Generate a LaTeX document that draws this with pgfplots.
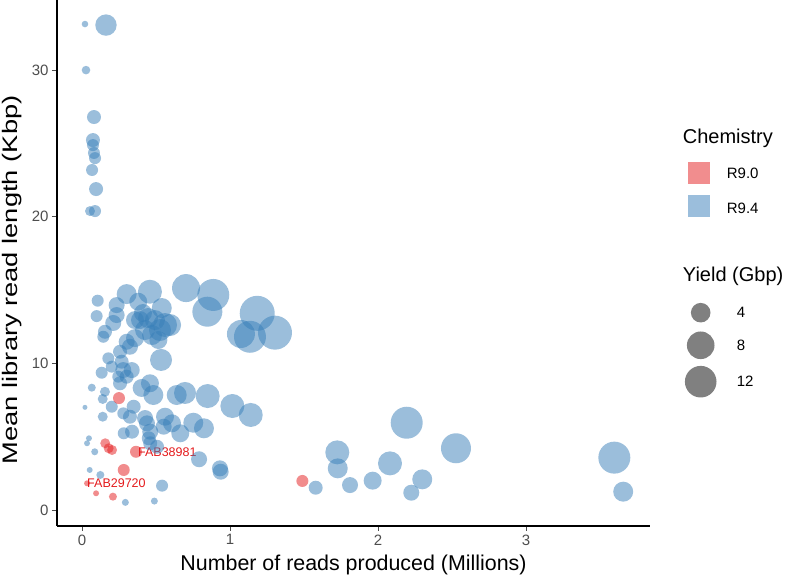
\documentclass[border=0pt]{standalone}
\usepackage{pgfplots}
\pgfplotsset{compat=1.18}
\usepackage{pgfplotstable}
\usepackage{fontspec}
\setmainfont{Liberation Sans}
\definecolor{cred}{HTML}{E41A1C}
\definecolor{cblue}{HTML}{377EB8}
\definecolor{tickgrey}{HTML}{4D4D4D}

% x = reads (millions), y = mean read length (Kbp), yield = Gbp
\pgfplotstableread{
x y yield
0.020 33.13 0.45
0.162 33.06 4.77
0.027 29.99 0.77
0.081 26.79 2.04
0.074 25.22 2.04
0.074 24.88 1.5
0.081 24.34 1.5
0.088 23.99 1.5
0.068 23.18 1.5
0.095 21.88 2.04
0.054 20.38 1.04
0.088 20.38 1.5
0.106 14.27 1.5
0.099 13.22 1.5
0.302 14.72 4.16
0.459 14.88 6.0
0.703 15.13 8.16
0.887 14.66 10.66
0.847 13.52 9.37
1.184 13.41 12.76
1.074 12.00 8.16
1.135 11.81 10.66
1.304 12.09 12.04
0.234 13.97 2.67
0.234 13.29 2.67
0.211 12.75 2.67
0.155 12.15 2.04
0.144 11.81 1.5
0.380 14.20 3.37
0.539 13.77 4.16
0.561 12.61 6.0
0.493 12.95 4.16
0.426 12.27 4.16
0.358 11.72 3.37
0.302 11.47 2.67
0.324 11.13 2.67
0.516 11.59 3.37
0.534 10.23 5.04
0.257 10.79 2.04
0.178 10.34 1.5
0.201 9.77 1.5
0.133 9.36 1.5
0.268 10.11 2.04
0.279 9.54 2.67
0.336 9.54 2.67
0.302 9.09 2.04
0.245 9.09 1.5
0.257 8.64 2.04
0.459 8.64 3.37
0.403 8.32 3.37
0.482 7.84 4.16
0.640 7.84 4.16
0.696 7.98 5.04
0.849 7.77 6.0
1.016 7.09 6.0
1.140 6.48 6.0
0.066 8.34 0.67
0.155 8.06 1.04
0.140 7.57 1.04
0.020 7.00 0.26
0.201 7.04 1.5
0.140 6.36 1.04
0.279 6.59 1.5
0.324 6.36 2.04
0.426 6.27 2.67
0.561 6.36 3.37
0.349 7.04 2.04
0.752 5.95 4.16
0.824 5.57 4.16
0.608 5.91 3.37
0.552 5.68 2.67
0.664 5.23 3.37
0.439 5.91 2.67
0.338 5.34 2.04
0.282 5.23 1.5
0.461 5.34 2.67
0.451 4.89 2.04
0.507 4.31 2.04
0.461 4.55 2.04
0.047 4.89 0.37
0.034 4.55 0.37
0.086 3.97 0.51
0.791 3.46 2.67
0.932 2.84 2.67
0.937 2.61 2.67
0.052 2.73 0.37
0.124 2.39 0.67
0.541 1.66 1.5
0.293 0.52 0.51
0.489 0.61 0.51
1.579 1.52 2.04
1.725 3.93 6.0
1.728 2.84 4.16
1.811 1.70 2.67
1.964 2.00 3.37
2.081 3.18 6.0
2.194 5.95 10.66
2.299 2.09 4.16
2.225 1.18 2.67
2.527 4.21 9.37
3.597 3.57 10.66
3.657 1.25 4.16
0.595 12.61 5.04
0.446 13.09 4.16
0.392 12.95 3.37
0.473 11.93 4.16
0.527 12.27 5.04
0.412 13.43 3.37
0.358 12.95 3.37
}\bluedata

\pgfplotstableread{
x y yield
0.250 7.63 1.5
0.157 4.55 1.04
0.180 4.21 1.04
0.203 4.09 1.04
0.365 3.97 1.5
0.282 2.73 1.5
0.034 1.82 0.37
0.095 1.14 0.37
0.209 0.91 0.67
1.489 1.98 1.5
}\reddata

\begin{document}
\begin{tikzpicture}[x=1pt,y=1pt]
\begin{axis}[
  at={(0pt,0pt)}, anchor=south west,
  scale only axis, width=593pt, height=526pt,
  xmin=-0.169, xmax=3.838, ymin=-1.09, ymax=34.77,
  axis x line*=bottom, axis y line*=left,
  axis line style={line width=1.2pt, black},
  xtick={0,1,2,3}, ytick={0,10,20,30},
  tick align=outside, major tick length=5pt,
  tick style={black!70, line width=0.8pt},
  /pgf/number format/assume math mode=true,
  ticklabel style={font=\fontsize{15}{15}\selectfont, text=tickgrey},
  xlabel={Number of reads produced (Millions)},
  ylabel={\scalebox{1.3}[1]{Mean library read length (Kbp)}},
  xlabel style={font=\fontsize{21.4}{21.4}\selectfont, at={(axis description cs:0.5,-0.0741)}, anchor=center},
  ylabel style={font=\fontsize{21}{21}\selectfont, at={(axis description cs:-0.0759,0.468)}, anchor=center},
  clip=false,
]
\addplot[scatter, only marks, mark=*, draw opacity=0,
  mark options={draw opacity=0},
  scatter/use mapped color={draw opacity=0, fill=cblue, fill opacity=0.5},
  visualization depends on={4.9*sqrt(\thisrow{yield}) \as \rad},
  scatter/@pre marker code/.append style={/tikz/mark size=\rad}]
  table[x=x, y=y] {\bluedata};
\addplot[scatter, only marks, mark=*, draw opacity=0,
  mark options={draw opacity=0},
  scatter/use mapped color={draw opacity=0, fill=cred, fill opacity=0.5},
  visualization depends on={4.9*sqrt(\thisrow{yield}) \as \rad},
  scatter/@pre marker code/.append style={/tikz/mark size=\rad}]
  table[x=x, y=y] {\reddata};
\node[anchor=west, text=cred, inner sep=0pt, font=\fontsize{12.5}{12.5}\selectfont] at (axis cs:0.378,3.95) {FAB38981};
\node[anchor=west, text=cred, inner sep=0pt, font=\fontsize{12.5}{12.5}\selectfont] at (axis cs:0.034,1.82) {FAB29720};
\end{axis}
% legend
\node[anchor=west, inner sep=0pt, font=\fontsize{20}{20}\selectfont] at (625.7,387.7) {Chemistry};
\fill[cred!50!white] (630.7,342) rectangle (653,363.7);
\fill[cblue!50!white] (630.7,308.7) rectangle (653,331);
\node[anchor=west, inner sep=0pt, font=\fontsize{15}{15}\selectfont] at (669.7,352.7) {R9.0};
\node[anchor=west, inner sep=0pt, font=\fontsize{15}{15}\selectfont] at (669.7,317.7) {R9.4};
\node[anchor=west, inner sep=0pt, font=\fontsize{20}{20}\selectfont] at (625.7,250) {Yield (Gbp)};
\fill[black!50] (643.7,213.3) circle (9.8);
\fill[black!50] (643.7,180.7) circle (13.8);
\fill[black!50] (643.7,144.3) circle (15.8);
\node[anchor=west, inner sep=0pt, font=\fontsize{15}{15}\selectfont] at (679.7,213.3) {4};
\node[anchor=west, inner sep=0pt, font=\fontsize{15}{15}\selectfont] at (679.7,180.7) {8};
\node[anchor=west, inner sep=0pt, font=\fontsize{15}{15}\selectfont] at (679.7,144.3) {12};
\pgfresetboundingbox
\path[use as bounding box] (-57,-51) rectangle (730,526);
\end{tikzpicture}
\end{document}
